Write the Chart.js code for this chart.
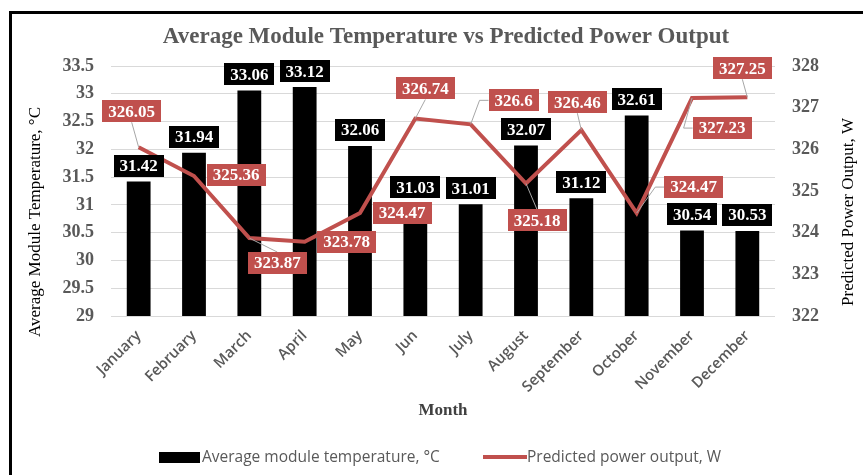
<!DOCTYPE html>
<html>
<head>
<meta charset="utf-8">
<title>Average Module Temperature vs Predicted Power Output</title>
<script src="https://cdn.jsdelivr.net/npm/chart.js@4.4.1/dist/chart.umd.min.js"></script>
<style>
  html, body { margin: 0; padding: 0; background: #fff; }
  #chart { display: block; }
</style>
</head>
<body>
<canvas id="chart" width="863" height="475"></canvas>
<script>
'use strict';

// ── Data ────────────────────────────────────────────────────────────────────

var MONTHS = ['January', 'February', 'March', 'April', 'May', 'Jun', 'July',
              'August', 'September', 'October', 'November', 'December'];

var MODULE_TEMP  = [31.42, 31.94, 33.06, 33.12, 32.06, 31.03, 31.01, 32.07, 31.12, 32.61, 30.54, 30.53];
var POWER_OUTPUT = [326.05, 325.36, 323.87, 323.78, 324.47, 326.74, 326.6, 325.18, 326.46, 324.47, 327.23, 327.25];

var TEMP_TICKS  = [29, 29.5, 30, 30.5, 31, 31.5, 32, 32.5, 33, 33.5];
var POWER_TICKS = [322, 323, 324, 325, 326, 327, 328];

// ── Styling ─────────────────────────────────────────────────────────────────

var RED   = '#C0504D';
var GREY  = '#595959';
var SERIF = '"Liberation Serif", "Times New Roman", serif';
var SANS  = '"Open Sans", sans-serif';

// where each power label box sits relative to its point (px), as placed in the source
var POWER_LABEL_OFFSETS = [[-7, -36], [42, -1], [28, 25], [42, 0], [42, 0], [10, -30],
                           [43, -24], [11, 37], [-4, -28], [57, -26], [30, 30], [-5, -29]];
var POWER_LABEL_LEADER  = [true, false, true, false, false, true, true, true, true, true, true, true];

(function (window) {

  function box(ctx, txt, cx, cy, fill) {
    var w = ctx.measureText(txt).width + 12;
    var h = 22;
    ctx.fillStyle = fill;
    ctx.fillRect(Math.round(cx - w / 2), Math.round(cy - h / 2), Math.round(w), h);
    ctx.fillStyle = '#fff';
    ctx.textAlign = 'center';
    ctx.textBaseline = 'middle';
    ctx.fillText(txt, cx, cy + 1);
    return w;
  }

  function leader(ctx, px, py, bx, by, w, h) {
    ctx.beginPath();
    ctx.moveTo(px, py);
    if (Math.abs(bx - px) > w / 2) {
      var edge = bx > px ? bx - w / 2 : bx + w / 2;
      var knee = bx > px ? edge - 9 : edge + 9;
      ctx.lineTo(knee, by);
      ctx.lineTo(edge, by);
    } else {
      ctx.lineTo(bx, by > py ? by - h / 2 : by + h / 2);
    }
    ctx.stroke();
  }

  // ── Decorations: frame, titles, data labels, legend ───────────────────────

  var decor = {
    id: 'decor',
    beforeDraw: function (chart) {
      var ctx = chart.ctx;
      ctx.save();
      ctx.fillStyle = '#000';
      ctx.fillRect(9, 11, 863, 3);
      ctx.fillRect(9, 11, 3, 475);
      ctx.restore();
    },
    afterDatasetsDraw: function (chart) {
      var ctx = chart.ctx;
      ctx.save();
      ctx.font = 'bold 17px ' + SERIF;

      // bar labels
      chart.getDatasetMeta(1).data.forEach(function (bar, i) {
        box(ctx, String(MODULE_TEMP[i]), bar.x, bar.y - 16, '#000');
      });

      // line labels with leader lines
      ctx.strokeStyle = '#A6A6A6';
      ctx.lineWidth = 1;
      chart.getDatasetMeta(0).data.forEach(function (pt, i) {
        var txt = String(POWER_OUTPUT[i]);
        var w = ctx.measureText(txt).width + 12;
        var bx = pt.x + POWER_LABEL_OFFSETS[i][0];
        var by = pt.y + POWER_LABEL_OFFSETS[i][1];
        if (POWER_LABEL_LEADER[i]) leader(ctx, pt.x, pt.y, bx, by, w, 22);
        box(ctx, txt, bx, by, RED);
      });
      ctx.restore();
    },
    afterDraw: function (chart) {
      var ctx = chart.ctx;
      ctx.save();
      ctx.textAlign = 'center';
      ctx.textBaseline = 'middle';

      ctx.fillStyle = GREY;
      ctx.font = 'bold 23px ' + SERIF;
      ctx.fillText('Average Module Temperature vs Predicted Power Output', 446, 37);

      ctx.fillStyle = '#404040';
      ctx.font = 'bold 17px ' + SERIF;
      ctx.fillText('Month', 443, 411);

      ctx.fillStyle = '#000';
      ctx.font = '17px ' + SERIF;
      ctx.save();
      ctx.translate(36, 222);
      ctx.rotate(-Math.PI / 2);
      ctx.fillText('Average Module Temperature, \u00B0C', 0, 0);
      ctx.restore();
      ctx.save();
      ctx.translate(849, 212);
      ctx.rotate(-Math.PI / 2);
      ctx.fillText('Predicted Power Output, W', 0, 0);
      ctx.restore();

      // legend
      ctx.textAlign = 'left';
      ctx.font = '15.5px ' + SANS;
      ctx.fillStyle = '#000';
      ctx.fillRect(159, 452, 41, 11);
      ctx.fillStyle = GREY;
      ctx.fillText('Average module temperature, \u00B0C', 202, 458);
      ctx.strokeStyle = RED;
      ctx.lineWidth = 4;
      ctx.beginPath();
      ctx.moveTo(483, 457);
      ctx.lineTo(527, 457);
      ctx.stroke();
      ctx.fillText('Predicted power output, W', 527, 458);
      ctx.restore();
    }
  };

  // ── Chart ─────────────────────────────────────────────────────────────────

  function tickList(list) {
    return function (axis) {
      axis.ticks = list.map(function (v) { return { value: v }; });
    };
  }

  new Chart(document.getElementById('chart'), {
    type: 'bar',
    data: {
      labels: MONTHS,
      datasets: [{
        type: 'line',
        label: 'Predicted power output, W',
        data: POWER_OUTPUT,
        yAxisID: 'y1',
        borderColor: RED,
        borderWidth: 4,
        pointRadius: 0,
        tension: 0,
        order: 0,
      }, {
        type: 'bar',
        label: 'Average module temperature, \u00B0C',
        data: MODULE_TEMP,
        yAxisID: 'y',
        backgroundColor: '#000',
        barPercentage: 0.43,
        categoryPercentage: 1,
        order: 1,
      }],
    },
    options: {
      responsive: false,
      animation: false,
      devicePixelRatio: 1,
      layout: { padding: { top: 66, left: 0, right: 0, bottom: 0 } },
      plugins: {
        legend: { display: false },
        tooltip: { enabled: false },
        title: { display: false },
      },
      scales: {
        x: {
          grid: { display: false },
          border: { display: false },
          ticks: {
            maxRotation: 45,
            minRotation: 45,
            padding: 3,
            color: GREY,
            font: { family: SANS, size: 15, weight: '600' },
          },
          afterFit: function (s) { s.height = 159; },
        },
        y: {
          position: 'left',
          min: TEMP_TICKS[0],
          max: TEMP_TICKS[TEMP_TICKS.length - 1],
          afterBuildTicks: tickList(TEMP_TICKS),
          grid: { color: '#D9D9D9', drawTicks: false },
          border: { display: false },
          ticks: {
            padding: 17,
            color: GREY,
            font: { family: SERIF, size: 18, weight: 'bold' },
            callback: function (v) { return String(v); },
          },
          afterFit: function (s) { s.width = 111; },
        },
        y1: {
          position: 'right',
          min: POWER_TICKS[0],
          max: POWER_TICKS[POWER_TICKS.length - 1],
          afterBuildTicks: tickList(POWER_TICKS),
          grid: { drawOnChartArea: false, drawTicks: false },
          border: { display: false },
          ticks: {
            padding: 17,
            color: GREY,
            font: { family: SERIF, size: 18, weight: 'bold' },
            callback: function (v) { return String(v); },
          },
          afterFit: function (s) { s.width = 88; },
        },
      },
    },
    plugins: [decor],
  });

})(window);
</script>
</body>
</html>
